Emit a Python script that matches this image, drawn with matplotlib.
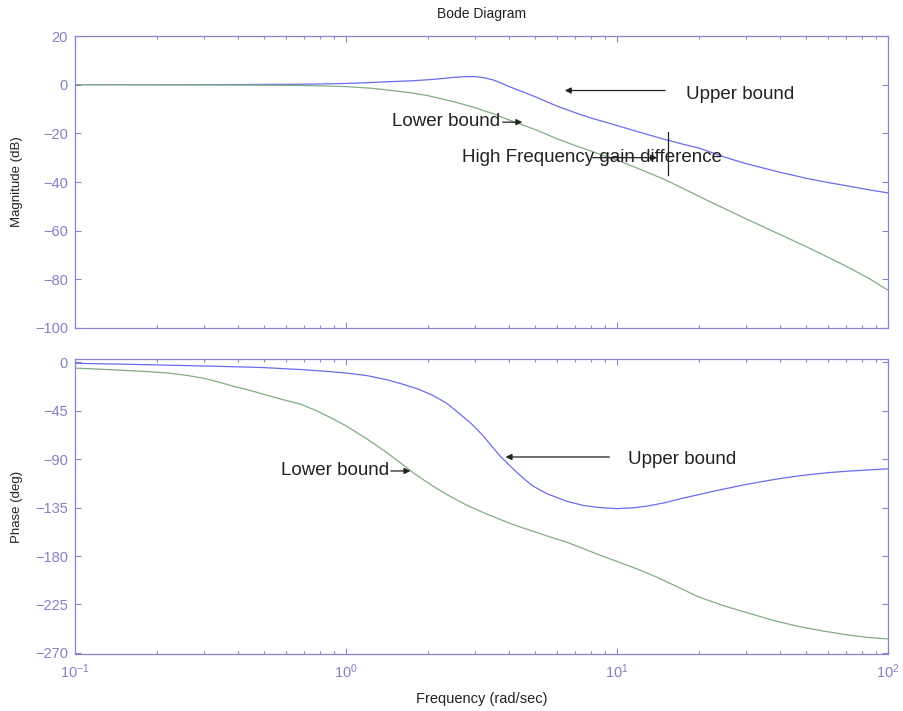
import matplotlib
matplotlib.use("Agg")
import matplotlib.pyplot as plt
from matplotlib.ticker import LogLocator, NullFormatter

plt.rcParams['font.family'] = ['Liberation Sans', 'DejaVu Sans']
plt.rcParams['axes.unicode_minus'] = True
plt.rcParams['mathtext.fontset'] = 'custom'
plt.rcParams['mathtext.rm'] = 'Liberation Sans'
plt.rcParams['mathtext.default'] = 'regular'

# ---- data ----
mag_upper_w = [0.1, 0.15, 0.2, 0.3, 0.4, 0.5, 0.7, 0.85, 1.0, 1.25, 1.5, 1.75, 2.0, 2.25, 2.5,
               2.75, 3.0, 3.25, 3.5, 3.75, 4.0, 4.5, 5.0, 5.5, 6.0, 7.0, 8.0, 9.0, 10, 12, 15,
               18, 20, 25, 30, 40, 50, 60, 70, 85, 100]
mag_upper = [0, 0, 0, 0, 0.05, 0.1, 0.2, 0.35, 0.5, 0.9, 1.3, 1.6, 2.0, 2.5, 3.0,
             3.3, 3.3, 2.8, 1.9, 0.6, -0.8, -3.0, -5.0, -7.0, -8.8, -11.5, -13.7, -15.3, -16.8,
             -19.4, -22.5, -24.8, -26, -29.8, -32.5, -36, -38.5, -40.2, -41.5, -43.2, -44.5]

mag_lower_w = [0.1, 0.2, 0.3, 0.5, 0.7, 0.85, 1.0, 1.25, 1.5, 1.75, 2.0, 2.5, 3.0, 3.5, 4.0,
               4.5, 5.0, 6.0, 7.0, 8.5, 10, 12, 15, 17.5, 20, 25, 30, 40, 50, 60, 70, 85, 100]
mag_lower = [0, -0.05, -0.1, -0.2, -0.35, -0.55, -0.8, -1.5, -2.5, -3.4, -4.5, -7, -9.5, -12,
             -14.5, -16.6, -18.5, -22.2, -25, -28.3, -31, -34.5, -39, -42.6, -45.8, -51, -55.2,
             -61.6, -66.6, -70.9, -74.6, -79.6, -84.5]

ph_upper_w = [0.1, 0.15, 0.2, 0.3, 0.4, 0.5, 0.7, 0.85, 1.0, 1.2, 1.4, 1.6, 1.85, 2.1, 2.35,
              2.6, 2.9, 3.2, 3.45, 3.7, 4.0, 4.3, 4.6, 4.9, 5.5, 6.5, 7.5, 8.6, 10, 11.5, 13,
              15, 17, 20, 23, 26.5, 30, 35, 40, 46, 53, 60, 70, 85, 100]
ph_upper = [-1, -1.8, -2.5, -3.5, -4.3, -5, -7, -8.5, -10, -12.5, -16, -20, -25, -31, -38,
            -47, -57, -68, -78, -87, -95.5, -103, -109.5, -115, -122, -129, -133, -135, -136,
            -135.2, -133.5, -130.5, -127, -123, -119.5, -116.3, -113.5, -110.5, -108, -105.8,
            -104, -102.6, -101.3, -100, -99]

ph_lower_w = [0.1, 0.125, 0.15, 0.185, 0.22, 0.26, 0.3, 0.34, 0.38, 0.44, 0.5, 0.58, 0.68,
              0.77, 0.87, 1.0, 1.19, 1.38, 1.58, 1.8, 2.09, 2.4, 2.75, 3.2, 3.7, 4.25, 4.9,
              5.7, 6.5, 7.5, 8.6, 10, 12, 14, 17, 20, 25, 31, 38, 47, 58, 72, 85, 100]
ph_lower = [-5.5, -6.5, -7.5, -8.7, -10, -12.3, -15, -18.5, -22, -26, -30, -34.5, -39,
            -44.5, -51, -59, -71, -82, -93, -104, -115, -124, -132, -139.5, -146, -151.8, -157,
            -162.5, -167, -173, -179, -185, -192.5, -199.5, -209.5, -218, -226.5, -233.5,
            -240, -245.5, -249.8, -253.5, -255.7, -257]

mag_ticks = [-100, -80, -60, -40, -20, 0, 20]
ph_ticks = [-270, -225, -180, -135, -90, -45, 0]

axcol = '#8a84d6'
labcol = '#8580c4'
blue = '#6b6cf0'
green = '#82ad82'
txtcol = '#222222'

fig = plt.figure(figsize=(9.04, 7.11), dpi=100)
ax1 = fig.add_axes([75/904, 1-328/711, 813/904, 292/711])
ax2 = fig.add_axes([75/904, 1-654/711, 813/904, 295/711])

ax1.semilogx(mag_upper_w, mag_upper, color=blue, lw=0.9)
ax1.semilogx(mag_lower_w, mag_lower, color=green, lw=0.9)
ax2.semilogx(ph_upper_w, ph_upper, color=blue, lw=0.9)
ax2.semilogx(ph_lower_w, ph_lower, color=green, lw=0.9)

for ax in (ax1, ax2):
    ax.set_xlim(0.1, 100)
    ax.xaxis.set_major_locator(LogLocator(base=10, numticks=10))
    ax.xaxis.set_minor_locator(LogLocator(base=10, subs=range(2, 10), numticks=10))
    ax.xaxis.set_minor_formatter(NullFormatter())
    ax.tick_params(which='both', direction='in', top=True, right=True,
                   colors=axcol, labelcolor=labcol, labelsize=10.5, width=0.8)
    ax.tick_params(which='major', length=4)
    ax.tick_params(which='minor', length=2.5)
    ax.tick_params(axis='y', pad=5)
    ax.tick_params(axis='x', pad=6)
    for s in ax.spines.values():
        s.set_color(axcol)
        s.set_linewidth(0.9)

ax1.set_ylim(-100, 20)
ax1.set_yticks(mag_ticks)
ax1.tick_params(axis='x', labelbottom=False)
ax2.set_ylim(-271, 3)
ax2.set_yticks(ph_ticks)

ax1.set_ylabel('Magnitude (dB)', fontsize=9.5, color=txtcol)
ax2.set_ylabel('Phase (deg)', fontsize=9.5, color=txtcol)
ax1.yaxis.set_label_coords(-0.064, 0.5)
ax2.yaxis.set_label_coords(-0.064, 0.5)
ax2.set_xlabel('Frequency (rad/sec)', fontsize=10.5, color=txtcol, labelpad=8)
ax1.set_title('Bode Diagram', fontsize=10, color=txtcol, pad=13)

arrow = dict(arrowstyle='-|>', color=txtcol, lw=0.9, mutation_scale=9)

# magnitude annotations
ax1.annotate('', xy=(6.27, -2.4), xytext=(15.4, -2.4), arrowprops=arrow)
ax1.text(18.0, -4.1, 'Upper bound', fontsize=13.5, color=txtcol, va='center', ha='left')
ax1.text(1.48, -15.2, 'Lower bound', fontsize=13.5, color=txtcol, va='center', ha='left')
ax1.annotate('', xy=(4.58, -15.4), xytext=(3.70, -15.4), arrowprops=arrow)
ax1.text(2.68, -30, 'High Frequency gain difference', fontsize=13.5, color=txtcol,
         va='center', ha='left')
ax1.annotate('', xy=(14.4, -30), xytext=(7.94, -30), arrowprops=arrow)
ax1.plot([15.4, 15.4], [-19.6, -37.1], color=txtcol, lw=0.9)

# phase annotations
ax2.annotate('', xy=(3.79, -88), xytext=(9.6, -88), arrowprops=arrow)
ax2.text(11.0, -90, 'Upper bound', fontsize=13.5, color=txtcol, va='center', ha='left')
ax2.text(0.575, -101, 'Lower bound', fontsize=13.5, color=txtcol, va='center', ha='left')
ax2.annotate('', xy=(1.77, -101), xytext=(1.43, -101), arrowprops=arrow)

fig.savefig('out.png', dpi=100)
